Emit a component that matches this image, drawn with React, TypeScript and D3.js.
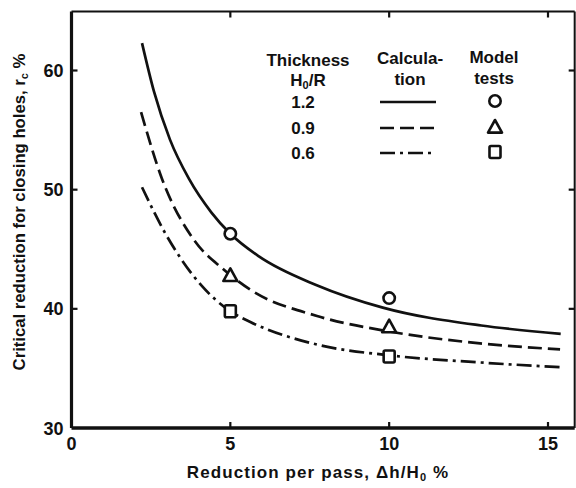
import React from "react";
import * as d3 from "d3";

// Data
const xTicks = [0, 5, 10, 15];
const yTicks = [30, 40, 50, 60];

const thicknessLabels = ["1.2", "0.9", "0.6"];

// Calculation curves (x = reduction per pass %, y = critical reduction %)
const curve12X = [2.22, 2.6, 3.1, 3.7, 4.4, 5.0, 5.9, 7.7, 9.8, 12.9, 15.4];
const curve12Y = [62.3, 58.2, 54.2, 50.9, 48.1, 46.3, 44.4, 42.0, 40.1, 38.6, 37.9];

const curve09X = [2.19, 2.85, 3.85, 4.79, 5.63, 7.73, 10.0, 12.86, 15.38];
const curve09Y = [56.5, 50.9, 45.8, 43.3, 41.6, 39.4, 38.1, 37.1, 36.6];

const curve06X = [2.22, 2.96, 4.11, 5.0, 5.63, 7.73, 10.0, 12.86, 15.38];
const curve06Y = [50.2, 46.3, 41.9, 39.8, 38.9, 37.0, 36.1, 35.5, 35.1];

// Model tests
const testX = [5, 10];
const test12 = [46.3, 40.9];
const test09 = [42.8, 38.5];
const test06 = [39.8, 36.0];

const W = 576;
const H = 488;
const FONT = "'Liberation Sans', Arial, sans-serif";
const INK = "#111";

export default function App() {
  const x = d3.scaleLinear().domain([0, 15]).range([71.5, 548]);
  const y = d3.scaleLinear().domain([30, 60]).range([428, 70.5]);
  const xMax = 15.84;
  const yMax = 64.95;
  const left = x(0), right = x(xMax), bottom = y(30), top = y(yMax);

  const line = d3
    .line<[number, number]>()
    .x((d) => x(d[0]))
    .y((d) => y(d[1]))
    .curve(d3.curveMonotoneX);

  const zip = (a: number[], b: number[]) => a.map((v, i) => [v, b[i]] as [number, number]);

  const styles = [
    { dash: undefined as string | undefined },
    { dash: "14 6" },
    { dash: "15 5 3 5" },
  ];
  const curves = [
    zip(curve12X, curve12Y),
    zip(curve09X, curve09Y),
    zip(curve06X, curve06Y),
  ];
  const tests = [test12, test09, test06];

  const marker = (kind: number, cx: number, cy: number, key: string) => {
    if (kind === 0)
      return <circle key={key} cx={cx} cy={cy} r={5.7} fill="#fff" stroke={INK} strokeWidth={2.6} />;
    if (kind === 1) {
      const s = 7;
      const p = `M${cx},${cy - s} L${cx + s},${cy + s * 0.8} L${cx - s},${cy + s * 0.8} Z`;
      return <path key={key} d={p} fill="#fff" stroke={INK} strokeWidth={2.6} strokeLinejoin="round" />;
    }
    return (
      <rect key={key} x={cx - 5.5} y={cy - 6} width={11} height={12} rx={1.5} fill="#fff" stroke={INK} strokeWidth={2.6} />
    );
  };

  const tickLen = 6;
  const legLineX1 = 380, legLineX2 = 436, legMarkX = 495;
  const legRowY = [102, 128, 153];

  return (
    <svg width={W} height={H} style={{ position: "absolute", left: 0, top: 0, background: "#fff" }} fontFamily={FONT}>
      {/* frame */}
      <line x1={left} y1={top} x2={left} y2={bottom} stroke={INK} strokeWidth={3.2} />
      <line x1={left} y1={bottom} x2={right} y2={bottom} stroke={INK} strokeWidth={3.4} />
      <line x1={left} y1={top} x2={right} y2={top} stroke={INK} strokeWidth={2} />
      <line x1={right} y1={top} x2={right} y2={bottom} stroke={INK} strokeWidth={2} />

      {/* ticks */}
      {xTicks.slice(1).map((t) => (
        <g key={"xt" + t}>
          <line x1={x(t)} x2={x(t)} y1={bottom} y2={bottom - tickLen} stroke={INK} strokeWidth={2.2} />
          <line x1={x(t)} x2={x(t)} y1={top} y2={top + tickLen} stroke={INK} strokeWidth={2.2} />
        </g>
      ))}
      {yTicks.slice(1).map((t) => (
        <g key={"yt" + t}>
          <line x1={left} x2={left + tickLen} y1={y(t)} y2={y(t)} stroke={INK} strokeWidth={2.2} />
          <line x1={right} x2={right - tickLen} y1={y(t)} y2={y(t)} stroke={INK} strokeWidth={2.2} />
        </g>
      ))}

      {/* tick labels */}
      {xTicks.map((t) => (
        <text key={"xl" + t} x={x(t)} y={bottom + 22} textAnchor="middle" fontSize={18} fontWeight="bold" fill={INK}>
          {t}
        </text>
      ))}
      {yTicks.map((t) => (
        <text key={"yl" + t} x={left - 8} y={y(t) + 6.5} textAnchor="end" fontSize={18} fontWeight="bold" fill={INK}>
          {t}
        </text>
      ))}

      {/* axis titles */}
      <text x={318} y={478} textAnchor="middle" fontSize={17} fontWeight="bold" fill={INK} letterSpacing={1.1}>
        Reduction per pass, Δh/H<tspan fontSize={11} dy={3}>0</tspan>
        <tspan dy={-3}> %</tspan>
      </text>
      <text
        transform={`translate(25, 212) rotate(-90)`}
        textAnchor="middle"
        fontSize={16.7}
        fontWeight="bold"
        fill={INK}
      >
        Critical reduction for closing holes, r<tspan fontSize={11} dy={3}>c</tspan>
        <tspan dy={-3}> %</tspan>
      </text>

      {/* curves */}
      {curves.map((c, i) => (
        <path
          key={"c" + i}
          d={line(c) || ""}
          fill="none"
          stroke={INK}
          strokeWidth={2.7}
          strokeDasharray={styles[i].dash}
        />
      ))}

      {/* test markers */}
      {tests.map((vals, i) => vals.map((v, j) => marker(i, x(testX[j]), y(v), `m${i}-${j}`)))}

      {/* legend */}
      <g fontSize={17} fontWeight="bold" fill={INK} textAnchor="middle">
        <text x={308} y={66}>Thickness</text>
        <text x={308} y={86}>
          H<tspan fontSize={11} dy={3}>0</tspan>
          <tspan dy={-3}>/R</tspan>
        </text>
        <text x={410} y={64}>Calcula-</text>
        <text x={410} y={85}>tion</text>
        <text x={494} y={63}>Model</text>
        <text x={494} y={84}>tests</text>
        {thicknessLabels.map((l, i) => (
          <text key={"tl" + i} x={303} y={legRowY[i] + 6}>
            {l}
          </text>
        ))}
      </g>
      {legRowY.map((ly, i) => (
        <g key={"lg" + i}>
          <line x1={legLineX1} x2={legLineX2} y1={ly} y2={ly} stroke={INK} strokeWidth={2.7} strokeDasharray={styles[i].dash} />
          {marker(i, legMarkX, ly - 1, "lm" + i)}
        </g>
      ))}
    </svg>
  );
}
